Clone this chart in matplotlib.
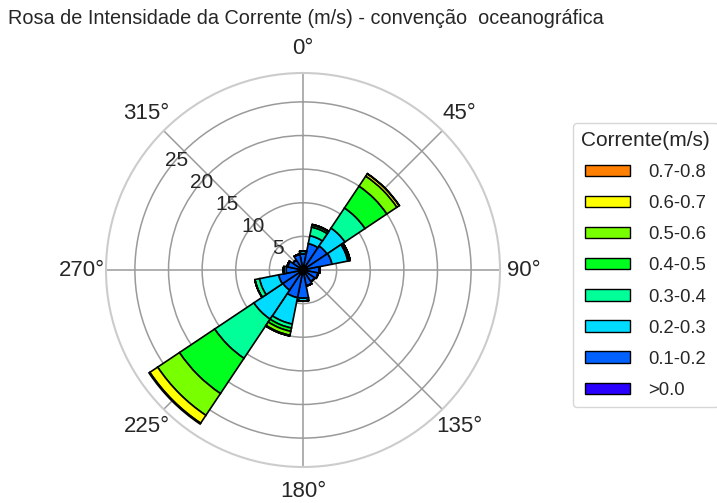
import numpy as np
import matplotlib
matplotlib.use('Agg')
import matplotlib.pyplot as plt
from matplotlib.patches import Patch

plt.rcParams['font.family'] = ['Liberation Sans', 'DejaVu Sans']

# 16 direction sectors (oceanographic convention, degrees)
DIRECTIONS = [0, 22.5, 45, 67.5, 90, 112.5, 135, 157.5,
              180, 202.5, 225, 247.5, 270, 292.5, 315, 337.5]

BIN_LABELS = ['>0.0', '0.1-0.2', '0.2-0.3', '0.3-0.4',
              '0.4-0.5', '0.5-0.6', '0.6-0.7', '0.7-0.8']

# frequency (%) per speed class, one value per direction
FREQ_00_01 = [0.5, 0.6, 0.7, 0.6, 0.5, 0.5, 0.5, 0.5, 0.6, 0.6, 0.7, 0.6, 0.5, 0.5, 0.4, 0.5]
FREQ_01_02 = [1.9, 3.4, 3.6, 3.8, 1.9, 1.8, 1.6, 1.9, 3.6, 3.6, 2.9, 3.1, 2.0, 1.8, 1.4, 1.9]
FREQ_02_03 = [0.4, 1.2, 3.2, 2.4, 0.1, 0.0, 0.0, 0.0, 0.4, 4.0, 5.2, 2.9, 0.4, 0.1, 0.0, 0.0]
FREQ_03_04 = [0.0, 1.3, 3.6, 0.2, 0.0, 0.0, 0.0, 0.0, 0.0, 0.6, 7.0, 0.7, 0.0, 0.0, 0.0, 0.0]
FREQ_04_05 = [0.0, 0.3, 3.9, 0.15, 0.0, 0.0, 0.0, 0.0, 0.0, 0.5, 6.3, 0.0, 0.0, 0.0, 0.0, 0.0]
FREQ_05_06 = [0.0, 0.1, 1.8, 0.0, 0.0, 0.0, 0.0, 0.0, 0.0, 0.6, 3.9, 0.0, 0.0, 0.0, 0.0, 0.0]
FREQ_06_07 = [0.0, 0.0, 0.4, 0.0, 0.0, 0.0, 0.0, 0.0, 0.0, 0.1, 1.4, 0.0, 0.0, 0.0, 0.0, 0.0]
FREQ_07_08 = [0.0, 0.0, 0.05, 0.0, 0.0, 0.0, 0.0, 0.0, 0.0, 0.0, 0.15, 0.0, 0.0, 0.0, 0.0, 0.0]

FREQS = [FREQ_00_01, FREQ_01_02, FREQ_02_03, FREQ_03_04,
         FREQ_04_05, FREQ_05_06, FREQ_06_07, FREQ_07_08]

BIN_COLORS = ['#2900ff', '#0061ff', '#00dcff', '#00ff99',
              '#00ff1e', '#78ff00', '#ffff00', '#ff8000']

R_TICKS = [5, 10, 15, 20, 25]
R_MAX = 29.3
TXT = '#262626'

fig = plt.figure(figsize=(7.17, 5.03), dpi=100)
ax = fig.add_axes([106 / 717, 36 / 503, 394 / 717, 394 / 503], projection='polar')
ax.set_theta_zero_location('N')
ax.set_theta_direction(-1)

theta = np.radians(DIRECTIONS)
width = 2 * np.pi / len(DIRECTIONS)
bottom = np.zeros(len(DIRECTIONS))
for freq, color in zip(FREQS, BIN_COLORS):
    vals = np.array(freq)
    ax.bar(theta, vals, width=width, bottom=bottom, color=color,
           edgecolor='black', linewidth=1.2, zorder=3)
    bottom += vals

ax.set_ylim(0, R_MAX)
ax.set_yticks(R_TICKS)
ax.set_yticklabels([])
# radial labels drawn by hand along the north-west gridline
for r in R_TICKS:
    ax.text(np.radians(311), r - 0.1, str(r), fontsize=15, color=TXT,
            ha='center', va='center', zorder=4)
ax.set_thetagrids(range(0, 360, 45), [f'{d}°' for d in range(0, 360, 45)],
                  fontsize=16, color=TXT)
ax.tick_params(axis='x', pad=7)
ax.grid(True, color='#9a9a9a', linewidth=1.1)
ax.set_axisbelow(True)
ax.spines['polar'].set_color('#cccccc')
ax.spines['polar'].set_linewidth(1.5)

fig.text(8 / 717, 1 - 18 / 503, 'Rosa de Intensidade da Corrente (m/s) - convenção  oceanográfica',
         fontsize=14.3, color=TXT, ha='left', va='center')

handles = [Patch(facecolor=c, edgecolor='black', label=l)
           for c, l in zip(BIN_COLORS[::-1], BIN_LABELS[::-1])]
leg = fig.legend(handles=handles, title='Corrente(m/s)', loc='upper left',
                 bbox_to_anchor=(573 / 717, 1 - 123 / 503), borderaxespad=0,
                 fontsize=13.3, title_fontsize=15, frameon=True, fancybox=True,
                 edgecolor='#cccccc', handlelength=2.4, handleheight=0.55,
                 labelspacing=0.76, handletextpad=1.0, borderpad=0.45)
leg.get_frame().set_linewidth(1.0)
for t in leg.get_texts():
    t.set_color(TXT)
leg.get_title().set_color(TXT)

fig.savefig('out.png', dpi=100)
